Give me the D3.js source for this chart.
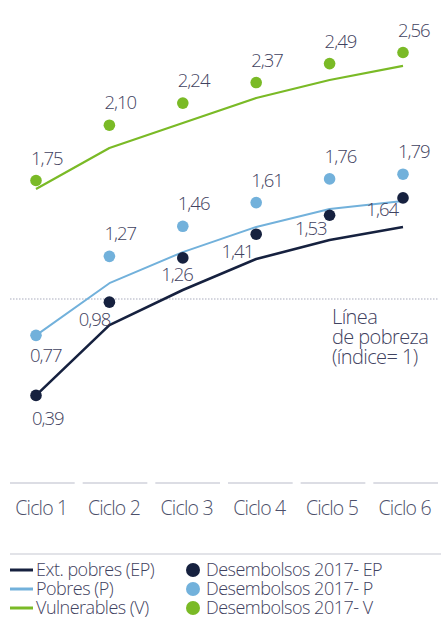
<!DOCTYPE html>
<html><head><meta charset="utf-8">
<script src="https://cdn.jsdelivr.net/npm/d3@7"></script>
<style>
html,body{margin:0;padding:0;background:#fff;}
svg text{font-family:"Open Sans","Noto Sans",sans-serif;font-weight:300;}
</style></head>
<body>
<svg id="chart" width="441" height="619"></svg>
<script>
// ---- data ----
const categories = ["Ciclo 1","Ciclo 2","Ciclo 3","Ciclo 4","Ciclo 5","Ciclo 6"];
const lineEP = [0.39, 0.835, 1.057, 1.253, 1.373, 1.456];
const lineP  = [0.77, 1.10, 1.297, 1.456, 1.57, 1.62];
const lineV  = [1.696, 1.956, 2.114, 2.272, 2.386, 2.475];
const dotsEP = [0.39, 0.98, 1.26, 1.41, 1.53, 1.64];
const dotsP  = [0.77, 1.27, 1.46, 1.61, 1.76, 1.79];
const dotsV  = [1.75, 2.10, 2.24, 2.37, 2.49, 2.56];
const povertyValue = 1;
const povertyLabel = ["Línea", "de pobreza", "(índice= 1)"];
const legendLines = ["Ext. pobres (EP)", "Pobres (P)", "Vulnerables (V)"];
const legendDots = ["Desembolsos 2017- EP", "Desembolsos 2017- P", "Desembolsos 2017- V"];

// ---- styles ----
const cDark = "#16213f", cLight = "#72b1db", cGreen = "#7aba26";
const textCol = "#3f4260";
const fmt = v => v.toFixed(2).replace(".", ",");

const svg = d3.select("#chart");
const x = d3.scalePoint().domain(categories).range([36, 403]);
const xb = d3.scaleBand().domain(categories).range([10, 438]).paddingInner(0.11).paddingOuter(0);
const y = d3.scaleLinear().domain([0, 3]).range([299 + 158, 299 - 2 * 158]);

// poverty line
svg.append("line")
  .attr("x1", 10).attr("x2", 438)
  .attr("y1", y(povertyValue)).attr("y2", y(povertyValue))
  .attr("stroke", "#a9abbd").attr("stroke-width", 1.2)
  .attr("stroke-dasharray", "1.5,1.5");
svg.append("text")
  .attr("x", 332).attr("y", y(povertyValue) + 25)
  .attr("fill", textCol).attr("font-size", 20).attr("letter-spacing", -0.6)
  .selectAll("tspan").data(povertyLabel).join("tspan")
  .attr("x", 332).attr("dy", (d, i) => i === 0 ? 0 : 20).text(d => d);

// lines
const series = [
  {vals: lineV, color: cGreen, w: 2.2},
  {vals: lineP, color: cLight, w: 2},
  {vals: lineEP, color: cDark, w: 2.6}
];
const lineGen = d3.line().x((d, i) => x(categories[i])).y(d => y(d));
series.forEach(s => {
  svg.append("path").datum(s.vals)
    .attr("d", lineGen).attr("fill", "none")
    .attr("stroke", s.color).attr("stroke-width", s.w)
    .attr("stroke-linejoin", "round");
});

// dots
const dotSeries = [
  {vals: dotsV, color: cGreen},
  {vals: dotsP, color: cLight},
  {vals: dotsEP, color: cDark}
];
dotSeries.forEach(s => {
  svg.append("g").selectAll("circle").data(s.vals).join("circle")
    .attr("cx", (d, i) => x(categories[i])).attr("cy", d => y(d))
    .attr("r", 5.8).attr("fill", s.color);
});

// value labels: placement rules [dx, dy, anchor]
const placeAbove = [-5, -16, "start"];
const placeEP = [[-4, 30, "start"], [1, 24, "end"], [10, 23, "end"], [-3, 24, "end"], [-3, 20, "end"], [-5, 18, "end"]];
const placeP = [[-6, 27, "start"], placeAbove, placeAbove, placeAbove, placeAbove, placeAbove];
function labels(vals, places) {
  svg.append("g").selectAll("text").data(vals).join("text")
    .attr("x", (d, i) => x(categories[i]) + places[i][0])
    .attr("y", (d, i) => y(d) + places[i][1])
    .attr("text-anchor", (d, i) => places[i][2])
    .attr("fill", textCol).attr("font-size", 18.5).attr("letter-spacing", -1)
    .text(d => fmt(d));
}
labels(dotsV, categories.map(() => placeAbove));
labels(dotsP, placeP);
labels(dotsEP, placeEP);

// x axis segments + labels
svg.append("g").selectAll("line").data(categories).join("line")
  .attr("x1", d => xb(d)).attr("x2", d => xb(d) + xb.bandwidth())
  .attr("y1", 483).attr("y2", 483)
  .attr("stroke", "#dcdde4").attr("stroke-width", 2);
svg.append("g").selectAll("text").data(categories).join("text")
  .attr("x", d => xb(d) + xb.bandwidth() / 2 - 1).attr("y", 515)
  .attr("text-anchor", "middle").attr("fill", "#4c4f6a")
  .attr("font-size", 19.5).attr("letter-spacing", -0.8)
  .text(d => d);

// separator
svg.append("line").attr("x1", 10).attr("x2", 441).attr("y1", 554).attr("y2", 554)
  .attr("stroke", "#e2e3e8").attr("stroke-width", 2);

// legend
const lg = svg.append("g");
const lineCols = [cDark, cLight, cGreen];
legendLines.forEach((t, i) => {
  const yy = 570 + i * 19;
  lg.append("line").attr("x1", 10).attr("x2", 33).attr("y1", yy).attr("y2", yy)
    .attr("stroke", lineCols[i]).attr("stroke-width", 3);
  lg.append("text").attr("x", 36).attr("y", yy + 6).attr("fill", textCol)
    .attr("font-size", 18).attr("letter-spacing", -0.5).text(t);
});
legendDots.forEach((t, i) => {
  const yy = 570 + i * 19;
  lg.append("circle").attr("cx", 193).attr("cy", yy).attr("r", 7).attr("fill", lineCols[i]);
  lg.append("text").attr("x", 206).attr("y", yy + 6).attr("fill", textCol)
    .attr("font-size", 18).attr("letter-spacing", -0.5).text(t);
});
</script>
</body></html>
